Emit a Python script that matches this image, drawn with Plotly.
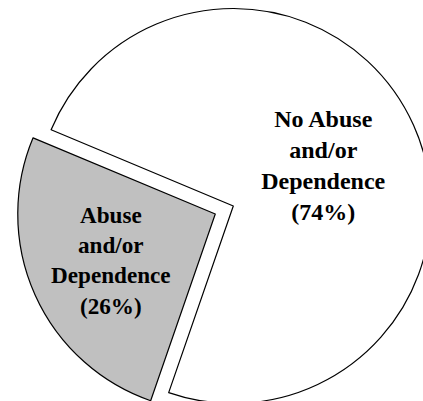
import math
import plotly.graph_objects as go

# Survey shares: abuse and/or dependence status
categories = ["No Abuse and/or Dependence", "Abuse and/or Dependence"]
shares = [74, 26]
fill_colors = ["#ffffff", "#c0c0c0"]
pulled = [0.0, 0.1]   # the second slice is exploded outward

# Canvas and pie geometry (pixels)
W, H = 470, 412
CX, CY, R = 233.3, 206.0, 197.5
ROTATION = -67.3      # first slice starts here, clockwise from 12 o'clock

FONT = "Liberation Serif"


def label_text(name):
    # break the category name onto three lines and add the percentage
    body = name.replace(" and/or ", "<br>and/or<br>")
    return "<b>" + body + "<br>(%{percent:.0%})</b>"


def slice_center(i):
    """Center of slice i after pulling it out along its mid angle."""
    total = float(sum(shares))
    start = ROTATION + 360.0 * sum(shares[:i]) / total
    mid = math.radians(start + 180.0 * shares[i] / total)
    off = pulled[i] * R
    return CX + off * math.sin(mid), CY - off * math.cos(mid)


def domain_for(cx, cy):
    # box of height 2R centred on (cx, cy), a little wider than tall
    x0, x1 = max(cx - R - 40, 0), min(cx + R + 40, W)
    half_w = min(cx - x0, x1 - cx)
    return dict(x=[(cx - half_w) / W, (cx + half_w) / W],
                y=[1 - (cy + R) / H, 1 - (cy - R) / H])


fig = go.Figure()
for i in range(len(categories)):
    cx, cy = slice_center(i)
    colors = [c if j == i else "rgba(0,0,0,0)" for j, c in enumerate(fill_colors)]
    widths = [1.2 if j == i else 0 for j in range(len(categories))]
    templates = [label_text(categories[j]) if j == i else "" for j in range(len(categories))]
    fig.add_trace(go.Pie(
        labels=categories,
        values=shares,
        sort=False,
        direction="clockwise",
        rotation=ROTATION,
        domain=domain_for(cx, cy),
        marker=dict(colors=colors, line=dict(color="#000000", width=widths)),
        texttemplate=templates,
        textposition="inside",
        insidetextorientation="horizontal",
        textfont=dict(family=FONT, size=24, color="#000000"),
        hoverinfo="skip",
        showlegend=False,
    ))

fig.update_layout(
    width=W, height=H,
    margin=dict(l=0, r=0, t=0, b=0),
    paper_bgcolor="#ffffff",
    plot_bgcolor="#ffffff",
    showlegend=False,
)

fig.write_html(
    "out.html",
    config={"displayModeBar": False, "staticPlot": True},
    post_script="document.body.style.margin='0';",
)
